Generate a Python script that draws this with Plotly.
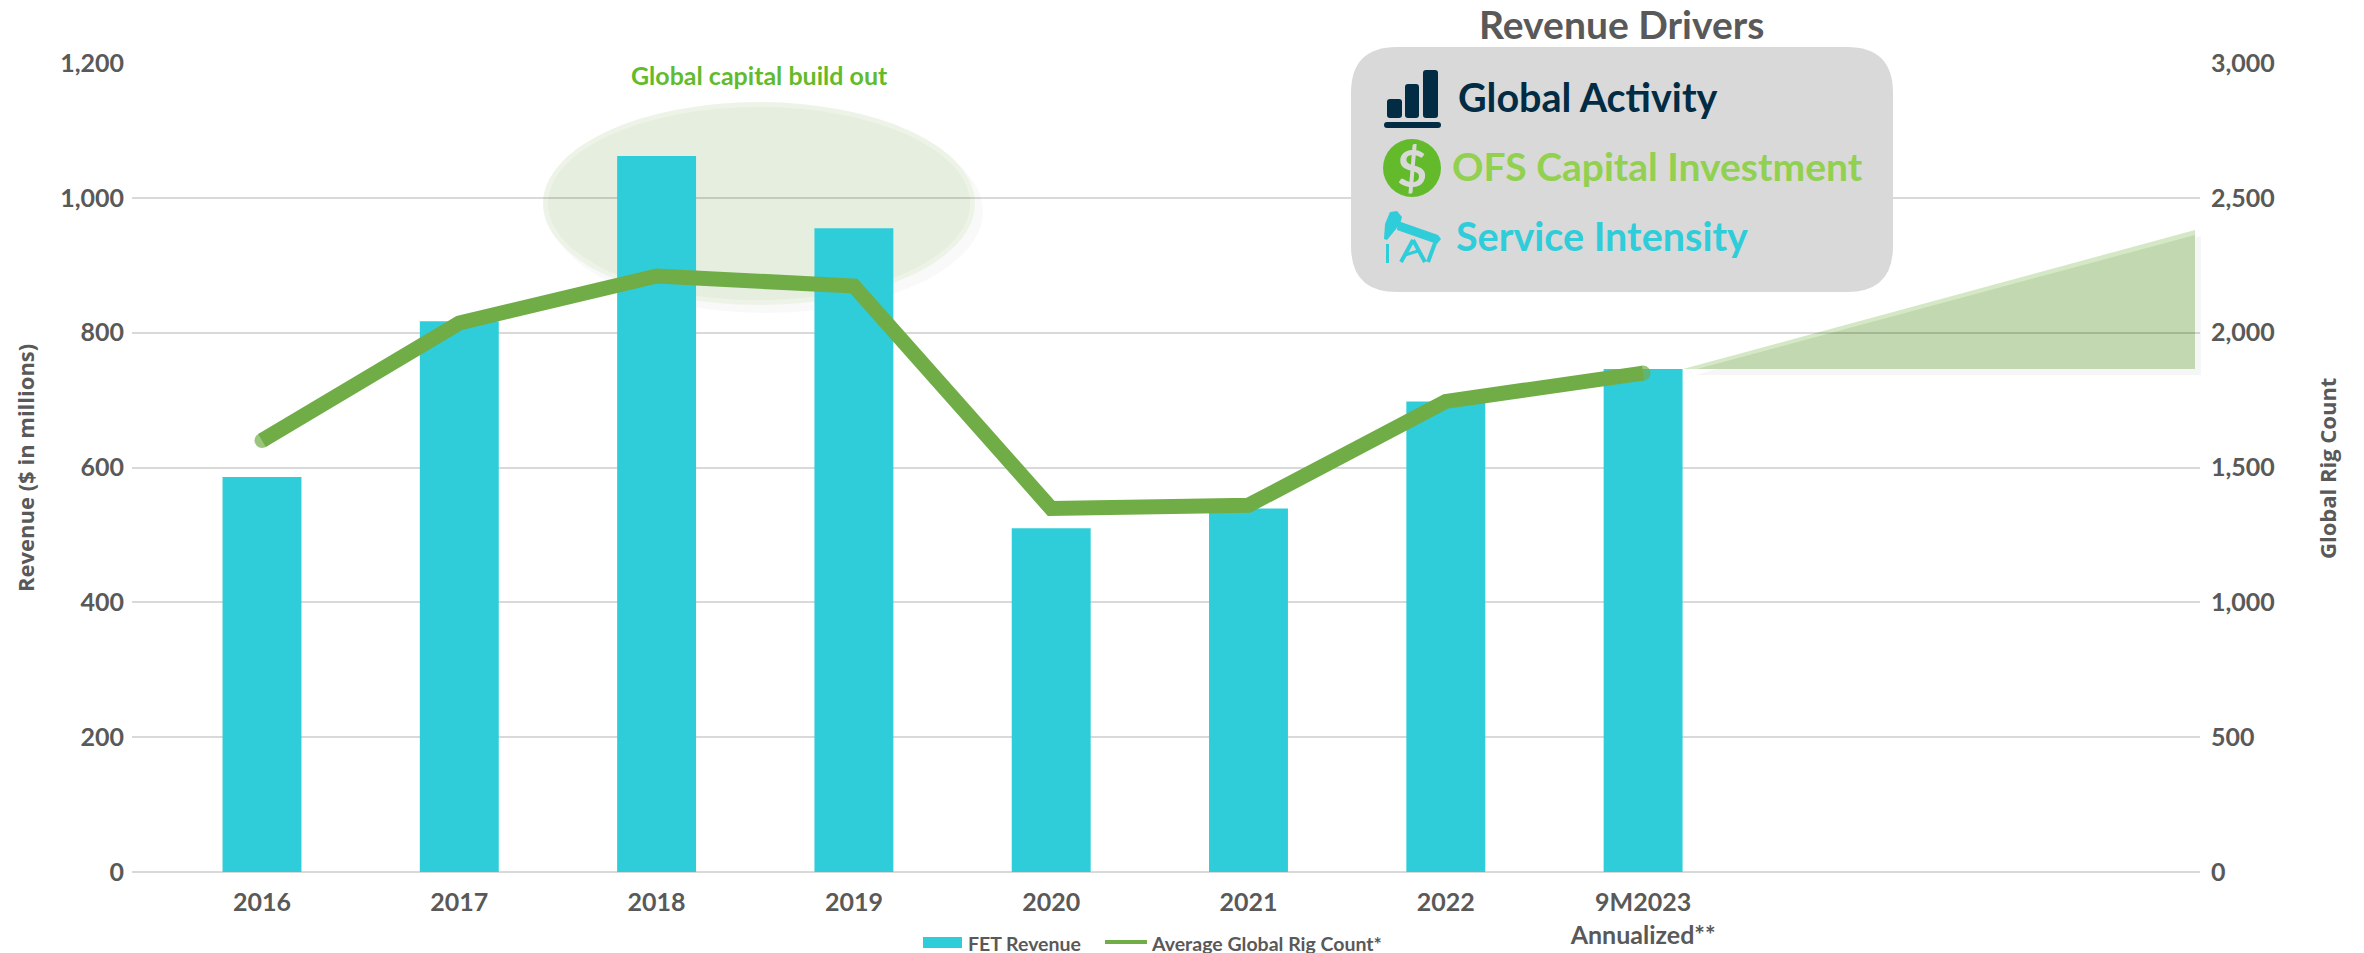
import plotly.graph_objects as go

categories = ["2016", "2017", "2018", "2019", "2020", "2021", "2022", "9M2023<br>Annualized**"]
fet_revenue = [586, 817, 1062, 955, 510, 539, 698, 746]
rig_count = [1600, 2036, 2210, 2173, 1348, 1360, 1745, 1850]
left_ticks = [0, 200, 400, 600, 800, 1000, 1200]
right_ticks = [0, 500, 1000, 1500, 2000, 2500, 3000]

W, H = 2364, 1000
L, R, T, B = 132, 2200, 63, 872
FONT = "Lato"
GREY = "#595959"
TEAL = "#2fcdd9"
LINE = "#70ad47"
GREEN = "#63bb2c"
NAVY = "#012c44"
LIME = "#92d050"
BOX = "#d9d9d9"


def fx(x):
    return (x - L) / (R - L)


def fy(y):
    return (B - y) / (B - T)


def P(x, y):
    return f"{fx(x):.5f},{fy(y):.5f}"


def rect(x0, y0, x1, y1, color, r=0, layer="above"):
    if r == 0:
        path = f"M{P(x0,y0)} L{P(x1,y0)} L{P(x1,y1)} L{P(x0,y1)} Z"
    else:
        path = (f"M{P(x0+r,y0)} L{P(x1-r,y0)} Q{P(x1,y0)} {P(x1,y0+r)} "
                f"L{P(x1,y1-r)} Q{P(x1,y1)} {P(x1-r,y1)} "
                f"L{P(x0+r,y1)} Q{P(x0,y1)} {P(x0,y1-r)} "
                f"L{P(x0,y0+r)} Q{P(x0,y0)} {P(x0+r,y0)} Z")
    return dict(type="path", xref="paper", yref="paper", path=path, fillcolor=color,
                line=dict(width=0), layer=layer)


def poly(points, color, layer="above"):
    path = "M" + " L".join(P(*p) for p in points) + " Z"
    return dict(type="path", xref="paper", yref="paper", path=path, fillcolor=color,
                line=dict(width=0), layer=layer)


def oval(x0, y0, x1, y1, color, layer="above"):
    return dict(type="circle", xref="paper", yref="paper", x0=fx(x0), x1=fx(x1),
                y0=fy(y1), y1=fy(y0), fillcolor=color, line=dict(width=0), layer=layer)


def stroke(points, color, width):
    path = "M" + " L".join(P(*p) for p in points)
    return dict(type="path", xref="paper", yref="paper", path=path,
                line=dict(color=color, width=width), layer="above")


def text(s, x, y, size, color, anchor="center", angle=0, family=FONT):
    return dict(text=s, x=fx(x), y=fy(y), xref="paper", yref="paper", xanchor=anchor,
                yanchor="middle", showarrow=False, textangle=angle,
                font=dict(family=family, size=size, color=color, weight=700))


fig = go.Figure()
fig.add_trace(go.Bar(x=categories, y=fet_revenue, name="FET Revenue",
                     marker=dict(color=TEAL, line=dict(width=0)), yaxis="y", showlegend=False))
fig.add_trace(go.Scatter(x=categories, y=rig_count, name="Average Global Rig Count*",
                         mode="lines+markers", yaxis="y2", showlegend=False,
                         line=dict(color=LINE, width=15),
                         marker=dict(color=LINE, line=dict(width=0),
                                     size=[15] + [0] * (len(rig_count) - 2) + [15])))

shapes = [
    # shaded ellipse behind the 2018-2019 bars
    oval(549, 110, 983, 313, "rgba(0,0,0,0.025)", "below"),
    oval(543, 102, 975, 305, "#edf4e7", "below"),
    oval(548, 107, 970, 300, "#e6eee0", "below"),
    # growth wedge
    poly([(1695, 375), (2201, 236), (2201, 375)], "rgba(0,0,0,0.035)", "below"),
    poly([(1683, 369), (2195, 230), (2195, 369)], "#d5e8c6", "below"),
    poly([(1697, 369), (2195, 235), (2195, 369)], "#c1d8b0", "below"),
    # drivers box
    rect(1351, 47, 1893, 292, BOX, r=46),
    # bar-chart icon
    rect(1387, 99, 1402, 118, NAVY, r=3),
    rect(1405, 84, 1419, 118, NAVY, r=3),
    rect(1423, 70, 1438, 118, NAVY, r=3),
    rect(1384, 122, 1441, 128, NAVY, r=3),
    # dollar icon
    oval(1383, 139, 1441, 197, GREEN),
    # pump-jack icon
    poly([(1384, 239), (1385, 224), (1390, 212), (1397, 211), (1402, 217), (1400, 224),
          (1392, 234), (1387, 240)], TEAL),
    poly([(1398, 221), (1438, 235), (1441, 239), (1437, 244), (1397, 230)], TEAL),
    rect(1386, 244, 1389, 263, TEAL),
    stroke([(1413, 240), (1401, 262)], TEAL, 4),
    stroke([(1413, 240), (1425, 262)], TEAL, 4),
    stroke([(1435, 243), (1428, 262)], TEAL, 4),
    stroke([(1405, 255), (1418, 251)], TEAL, 3),
    # legend swatches
    rect(923, 937, 962, 948, TEAL),
    stroke([(1105, 942), (1147, 942)], LINE, 4),
]

annotations = [
    text("Revenue Drivers", 1621, 24, 39, GREY),
    text("Global capital build out", 759, 75, 25, GREEN),
    text("Global Activity", 1456, 97, 39.5, NAVY, "left"),
    text("OFS Capital Investment", 1450, 166, 39, LIME, "left"),
    text("Service Intensity", 1454, 235, 39.5, TEAL, "left"),
    text("$", 1412, 167, 52, BOX),
    text("Revenue ($ in millions)", 25, 468, 22, GREY, angle=-90, family="Open Sans"),
    text("Global Rig Count", 2327, 469, 22, GREY, angle=-90, family="Open Sans"),
    text("FET Revenue", 966, 943, 19.5, GREY, "left"),
    text("Average Global Rig Count*", 1149, 943, 19.5, GREY, "left"),
]

tick_font = dict(family=FONT, size=25, color=GREY, weight=700)
step = 197.3
first = 262
fig.update_layout(
    width=W, height=H, autosize=False,
    margin=dict(l=L, r=W - R, t=T, b=H - B, pad=0),
    paper_bgcolor="white", plot_bgcolor="white", showlegend=False, bargap=0.6,
    xaxis=dict(type="category", range=[(L - first) / step, (R - first) / step],
               showgrid=False, showline=False, zeroline=False, ticks="",
               tickfont=tick_font, ticklabelstandoff=13, tickangle=0),
    yaxis=dict(range=[0, 1200], tickvals=left_ticks, tickformat=",", showgrid=True,
               gridcolor="rgba(0,0,0,0.15)", gridwidth=2, zeroline=True,
               zerolinecolor="rgba(0,0,0,0.15)", zerolinewidth=2, showline=False, ticks="",
               tickfont=tick_font, ticklabelstandoff=7),
    yaxis2=dict(range=[0, 3000], tickvals=right_ticks, tickformat=",", overlaying="y",
                side="right", showgrid=False, zeroline=False, showline=False, ticks="",
                tickfont=tick_font, ticklabelstandoff=10),
    shapes=shapes, annotations=annotations,
)

fig.write_html("out.html", config=dict(displayModeBar=False),
               post_script="document.body.style.margin='0';document.documentElement.style.overflow='hidden';")
